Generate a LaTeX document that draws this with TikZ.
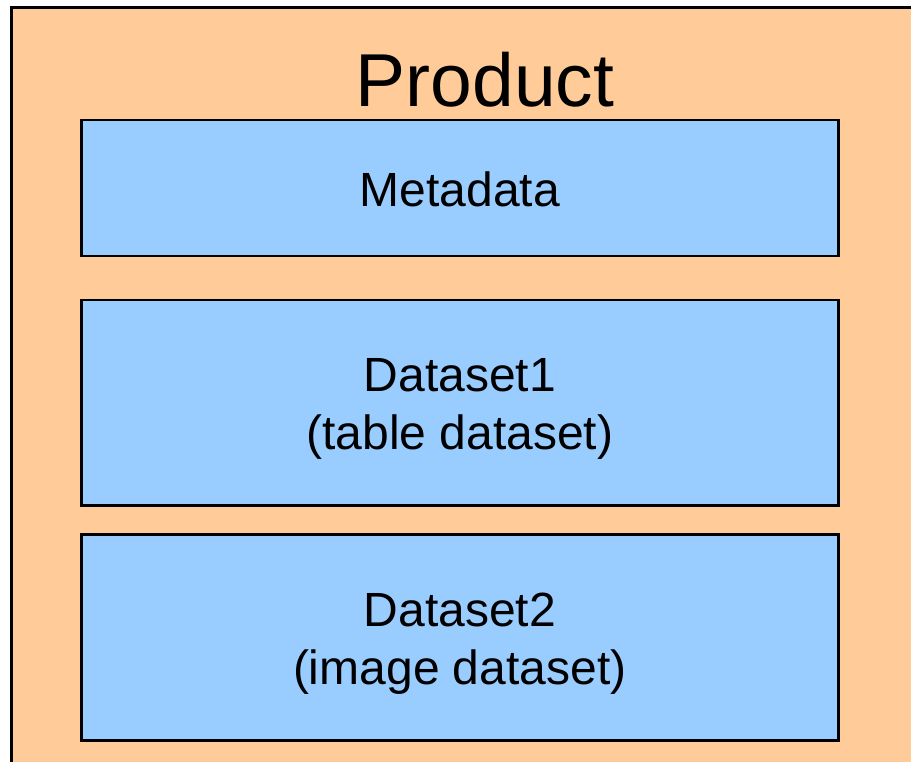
\documentclass[tikz,border=0pt]{standalone}
\usepackage{fontspec}
\setmainfont{Liberation Sans}
\definecolor{prodorange}{HTML}{FFCC99}
\definecolor{boxblue}{HTML}{99CCFF}
\begin{document}
\begin{tikzpicture}[x=1pt,y=-1pt,
  outerbox/.style={draw=black,fill=prodorange,line width=3pt},
  partbox/.style={draw=black,fill=boxblue,line width=2.5pt,minimum width=757pt,anchor=north west,inner sep=0pt},
  parttext/.style={align=center,font=\fontsize{48}{58}\selectfont,inner sep=0pt},
  shadowbox/.style={fill=black!45,minimum width=757pt,anchor=north west,inner sep=0pt}]
\useasboundingbox (0,0) rectangle (911,762);
\draw[outerbox] (11,8) rectangle (925,780);
\node[font=\fontsize{75}{90}\selectfont] (title) at (485,80) {Product};
\node[shadowbox,minimum height=136pt] at (82,121) {};
\node[partbox,minimum height=136pt] (meta) at (80,119) {};
\node[parttext] (metat) at ([yshift=-1pt]meta.center) {Metadata};
\node[shadowbox,minimum height=205pt] at (82,301) {};
\node[partbox,minimum height=205pt] (ds1) at (80,299) {};
\node[parttext] (ds1t) at ([yshift=-6pt]ds1.center) {Dataset1\\(table dataset)};
\node[shadowbox,minimum height=206pt] at (82,535) {};
\node[partbox,minimum height=206pt] (ds2) at (80,533) {};
\node[parttext] (ds2t) at ([yshift=-6pt]ds2.center) {Dataset2\\(image dataset)};
\end{tikzpicture}
\end{document}
